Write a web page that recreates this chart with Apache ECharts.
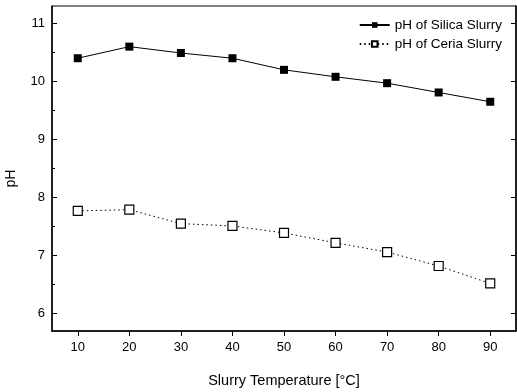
<!DOCTYPE html>
<html><head><meta charset="utf-8">
<script src="https://cdn.jsdelivr.net/npm/echarts@6/dist/echarts.min.js"></script>
<style>html,body{margin:0;padding:0;background:#fff}#c{width:517px;height:392px}</style>
</head><body><div id="c"></div>
<script>
const temps = [10, 20, 30, 40, 50, 60, 70, 80, 90];
const silicaPH = [10.40, 10.60, 10.49, 10.40, 10.20, 10.08, 9.97, 9.81, 9.65];
const ceriaPH = [7.77, 7.79, 7.55, 7.51, 7.39, 7.22, 7.06, 6.82, 6.52];
const xTicks = [10, 20, 30, 40, 50, 60, 70, 80, 90];
const yTicks = [6, 7, 8, 9, 10, 11];
const yMinorTicks = [6.5, 7.5, 8.5, 9.5, 10.5];
const seriesNames = ['pH of Silica Slurry', 'pH of Ceria Slurry'];

const font = 'Liberation Sans, Arial, sans-serif';
const chart = echarts.init(document.getElementById('c'), null, {renderer: 'canvas'});
const pair = (xs, ys) => xs.map((x, i) => [x, ys[i]]);
chart.setOption({
  animation: false,
  backgroundColor: '#fff',
  grid: {left: 52, top: 6, right: 1, bottom: 61, show: true, borderColor: '#000', borderWidth: 1,
         containLabel: false, outerBoundsMode: 'none'},
  legend: {
    right: 10, top: 13, orient: 'vertical', itemGap: 5, itemWidth: 30, itemHeight: 7,
    textStyle: {fontFamily: font, fontSize: 13.5, color: '#000'},
    data: seriesNames
  },
  xAxis: [{
    type: 'value', min: 5, max: 95,
    name: 'Slurry Temperature [°C]', nameLocation: 'middle', nameGap: 42,
    nameTextStyle: {fontFamily: font, fontSize: 14.5, color: '#000'},
    axisLine: {lineStyle: {color: '#000', width: 1.5}},
    axisTick: {show: true, customValues: xTicks, length: 5, lineStyle: {color: '#000'}},
    axisLabel: {customValues: xTicks, fontFamily: font, fontSize: 13, color: '#000', margin: 10},
    splitLine: {show: false}
  }],
  yAxis: [{
    type: 'value', min: 5.7, max: 11.3,
    name: 'pH', nameLocation: 'middle', nameGap: 34,
    nameTextStyle: {fontFamily: font, fontSize: 14, color: '#000', padding: [0, 0, 0, -20]},
    axisLine: {lineStyle: {color: '#000', width: 1.5}},
    axisTick: {show: true, inside: true, customValues: yTicks, length: 5, lineStyle: {color: '#000'}},
    axisLabel: {customValues: yTicks, fontFamily: font, fontSize: 13, color: '#000', margin: 7},
    splitLine: {show: false}
  }, {
    type: 'value', min: 5.7, max: 11.3, position: 'left',
    axisLine: {show: false},
    axisTick: {show: true, inside: true, customValues: yMinorTicks, length: 3, lineStyle: {color: '#000'}},
    axisLabel: {show: false}, splitLine: {show: false}
  }, {
    type: 'value', min: 5.7, max: 11.3, position: 'right',
    axisLine: {show: true, lineStyle: {color: '#000', width: 1.5}},
    axisTick: {show: true, inside: true, customValues: yTicks, length: 5, lineStyle: {color: '#000'}},
    axisLabel: {show: false}, splitLine: {show: false}
  }],
  series: [{
    name: seriesNames[0], type: 'line', data: pair(temps, silicaPH),
    symbol: 'rect', symbolSize: 8,
    itemStyle: {color: '#000'},
    lineStyle: {color: '#000', width: 1, type: 'solid'}
  }, {
    name: seriesNames[1], type: 'line', data: pair(temps, ceriaPH),
    symbol: 'rect', symbolSize: 9,
    itemStyle: {color: '#fff', borderColor: '#000', borderWidth: 1.2},
    lineStyle: {color: '#000', width: 1, type: [1.5, 3]}
  }]
});
</script></body></html>
